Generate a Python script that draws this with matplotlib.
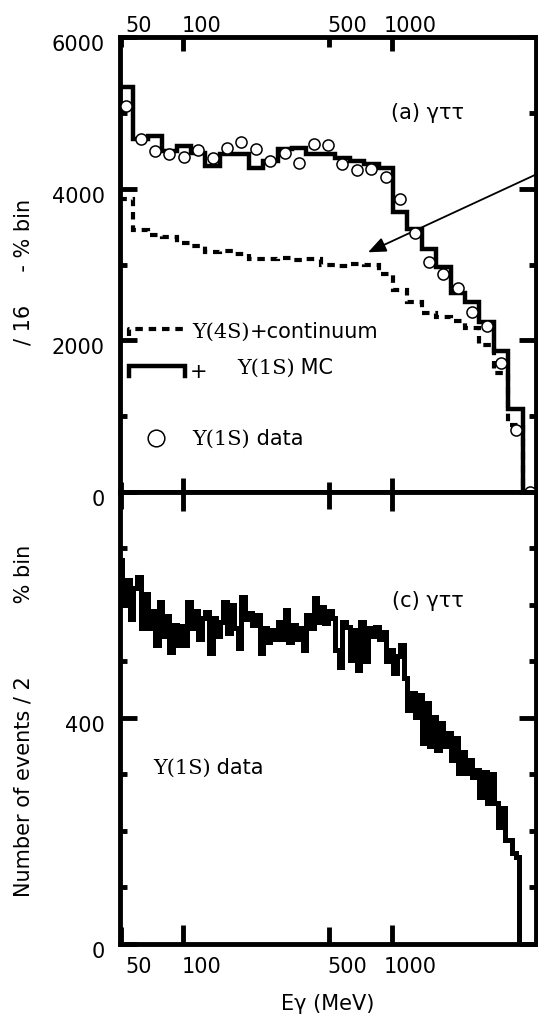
import numpy as np
import matplotlib
matplotlib.use('Agg')
import matplotlib.pyplot as plt
from matplotlib.ticker import FixedLocator, FuncFormatter, NullFormatter
from matplotlib.transforms import ScaledTranslation

plt.rcParams['font.family'] = ['DejaVu Sans']
FS = 15

# ---- panel (a): coarse log bins, 49 MeV .. 4.2 GeV ----
e_lo, e_hi, n_a = 49.1, 4211.0, 28
mc_sum = [5340, 4660, 4690, 4500, 4570, 4470, 4300, 4460, 4460, 4280,
          4370, 4530, 4540, 4460, 4460, 4410, 4370, 4320, 4280, 3690,
          3470, 3210, 2970, 2630, 2500, 2240, 1860, 1100]
continuum = [3870, 3460, 3390, 3360, 3290, 3250, 3160, 3185, 3140, 3070,
             3070, 3090, 3055, 3080, 3000, 2980, 3010, 2990, 2880, 2660,
             2500, 2360, 2310, 2250, 2160, 1935, 1570, 880]
data_a = [5090, 4660, 4500, 4460, 4420, 4510, 4410, 4540, 4620, 4530,
          4370, 4470, 4340, 4590, 4580, 4330, 4250, 4260, 4150, 3870,
          3410, 3040, 2880, 2690, 2375, 2190, 1700, 820, 0]

# ---- panel (c): fine bins (1/4 of the coarse ones) ----
data_c = [680, 600, 644, 575, 630, 650, 560, 620, 560, 590,
          530, 605, 545, 580, 517, 565, 530, 562, 530, 605,
          560, 590, 540, 577, 588, 515, 577, 545, 570, 605,
          550, 600, 560, 524, 614, 575, 585, 565, 582, 515,
          560, 535, 555, 540, 570, 540, 591, 535, 565, 540,
          560, 520, 582, 560, 612, 570, 597, 568, 590, 577,
          520, 490, 570, 561, 503, 555, 485, 570, 500, 560,
          545, 561, 540, 552, 500, 520, 480, 510, 529, 470,
          414, 445, 402, 440, 356, 427, 350, 402, 343, 391,
          350, 373, 326, 365, 303, 340, 303, 326, 295, 308,
          260, 305, 250, 300, 250, 207, 240, 184, 184, 161,
          154]

ratio = (e_hi / e_lo) ** (1.0 / n_a)
edges_a = e_lo * ratio ** np.arange(n_a + 1)
centers_a = e_lo * ratio ** (np.arange(len(data_a)) + 0.5)
edges_c = e_lo * (ratio ** 0.25) ** np.arange(len(data_c) + 1)

fig = plt.figure(figsize=(5.38, 10.16), dpi=100)
ax_a = fig.add_axes([0.2230, 0.5157, 0.7732, 0.4478])
ax_c = fig.add_axes([0.2230, 0.0709, 0.7732, 0.4449])

for ax in (ax_a, ax_c):
    ax.set_xscale('log')
    ax.set_xlim(49.7, 4870)
    for s in ax.spines.values():
        s.set_linewidth(3.5)
    ax.xaxis.set_major_locator(FixedLocator([100, 1000]))
    ax.xaxis.set_minor_locator(FixedLocator([50, 500]))
    ax.xaxis.set_major_formatter(FuncFormatter(lambda v, p: f'{v:g}'))
    ax.xaxis.set_minor_formatter(FuncFormatter(lambda v, p: f'{v:g}'))
    ax.tick_params(which='both', direction='in', width=3.5, labelsize=FS,
                   top=True, right=True)
    ax.tick_params(axis='x', which='major', length=10)
    ax.tick_params(axis='x', which='minor', length=7.5)
    ax.tick_params(axis='y', which='major', length=12, pad=11)
    ax.tick_params(axis='y', which='minor', length=5)

ax_a.tick_params(axis='x', which='both', labeltop=True, labelbottom=False, pad=0.5)
ax_c.tick_params(axis='x', which='both', labeltop=False, labelbottom=True, pad=9.5)
ax_c.tick_params(axis='x', which='major', length=14)
ax_c.tick_params(axis='x', which='minor', length=12)

ax_a.set_ylim(0, 6000)
ax_a.yaxis.set_major_locator(FixedLocator([0, 2000, 4000, 6000]))
ax_a.yaxis.set_minor_locator(FixedLocator([1000, 3000, 5000]))
ax_a.yaxis.set_minor_formatter(NullFormatter())

ax_c.set_ylim(0, 800)
ax_c.yaxis.set_major_locator(FixedLocator([0, 400, 800]))
ax_c.yaxis.set_major_formatter(FuncFormatter(lambda v, p: '' if v > 700 else f'{v:g}'))
ax_c.yaxis.set_minor_locator(FixedLocator([100, 200, 300, 500, 600, 700]))
ax_c.yaxis.set_minor_formatter(NullFormatter())

# panel (a) histograms and data
dash = (0, (1.8, 1.4))
ax_a.stairs(continuum, edges_a, baseline=0, color='k', lw=3.0, linestyle=dash)
ax_a.stairs(mc_sum, edges_a, baseline=0, color='k', lw=3.2)
ax_a.plot(centers_a, data_a, 'o', ms=8, mfc='white', mec='k', mew=1.1,
          zorder=4, clip_on=False)

ax_a.annotate('', xy=(765, 3162), xytext=(5078, 4211),
              arrowprops=dict(arrowstyle='-|>,head_length=0.6,head_width=0.25',
                              color='k', lw=1.3, mutation_scale=18,
                              shrinkA=0, shrinkB=0),
              annotation_clip=False)

# panel (c)
ax_c.stairs(data_c, edges_c, baseline=0, color='k', lw=3.6)

# legend of panel (a), drawn by hand like the original
ta = ax_a.transAxes
ax_a.plot([0.021, 0.021, 0.157], [0.342, 0.359, 0.359], color='k', lw=3.0,
          linestyle=dash, transform=ta, clip_on=False)
ax_a.plot([0.021, 0.021, 0.157, 0.157], [0.256, 0.278, 0.278, 0.256],
          color='k', lw=3.2, transform=ta, solid_joinstyle='miter')
ax_a.plot([0.0865], [0.1187], 'o', ms=12, mfc='white', mec='k', mew=1.1,
          transform=ta)
ax_a.text(0.19, 0.251, '+', transform=ta, fontsize=FS, va='baseline', ha='center')

ax_a.text(0.651, 0.820, '(a) γττ', transform=ta, fontsize=FS, va='baseline')
ax_c.text(0.654, 0.7456, '(c) γττ', transform=ax_c.transAxes, fontsize=FS,
          va='baseline')

two_part = [
    (ax_a, 0.173, 0.3385, 'Υ(4S)', '+continuum'),
    (ax_a, 0.281, 0.2593, 'Υ(1S)', ' MC'),
    (ax_a, 0.173, 0.1033, 'Υ(1S)', ' data'),
    (ax_c, 0.079, 0.3761, 'Υ(1S)', ' data'),
]
serif_txt = []
for ax, x, y, s1, s2 in two_part:
    serif_txt.append(ax.text(x, y, s1, transform=ax.transAxes, fontsize=FS,
                             family='DejaVu Serif', va='baseline'))

fig.text(24 / 538, 1 - 271.5 / 1016, '/ 16     - % bin', rotation=90,
         ha='center', va='center', fontsize=15)
fig.text(24 / 538, 1 - 721 / 1016, 'Number of events / 2           % bin',
         rotation=90, ha='center', va='center', fontsize=15)
fig.text(328 / 538, 1 - 1014 / 1016, 'Eγ (MeV)', ha='center', va='bottom',
         fontsize=15)

fig.canvas.draw()
renderer = fig.canvas.get_renderer()
for (ax, x, y, s1, s2), t1 in zip(two_part, serif_txt):
    bb = t1.get_window_extent(renderer)
    x2 = ax.transAxes.inverted().transform((bb.x1, bb.y0))[0]
    ax.text(x2, y, s2, transform=ax.transAxes, fontsize=FS, va='baseline')

# tick labels in the original sit a bit right of / below their ticks
dx = ScaledTranslation(0.18, 0, fig.dpi_scale_trans)
dy = ScaledTranslation(0, -0.06, fig.dpi_scale_trans)
for ax in (ax_a, ax_c):
    for t in ax.xaxis.get_major_ticks() + ax.xaxis.get_minor_ticks():
        t.label1.set_transform(t.label1.get_transform() + dx)
        t.label2.set_transform(t.label2.get_transform() + dx)
    for t in ax.yaxis.get_major_ticks():
        t.label1.set_transform(t.label1.get_transform() + dy)

fig.savefig('out.png', dpi=100)
